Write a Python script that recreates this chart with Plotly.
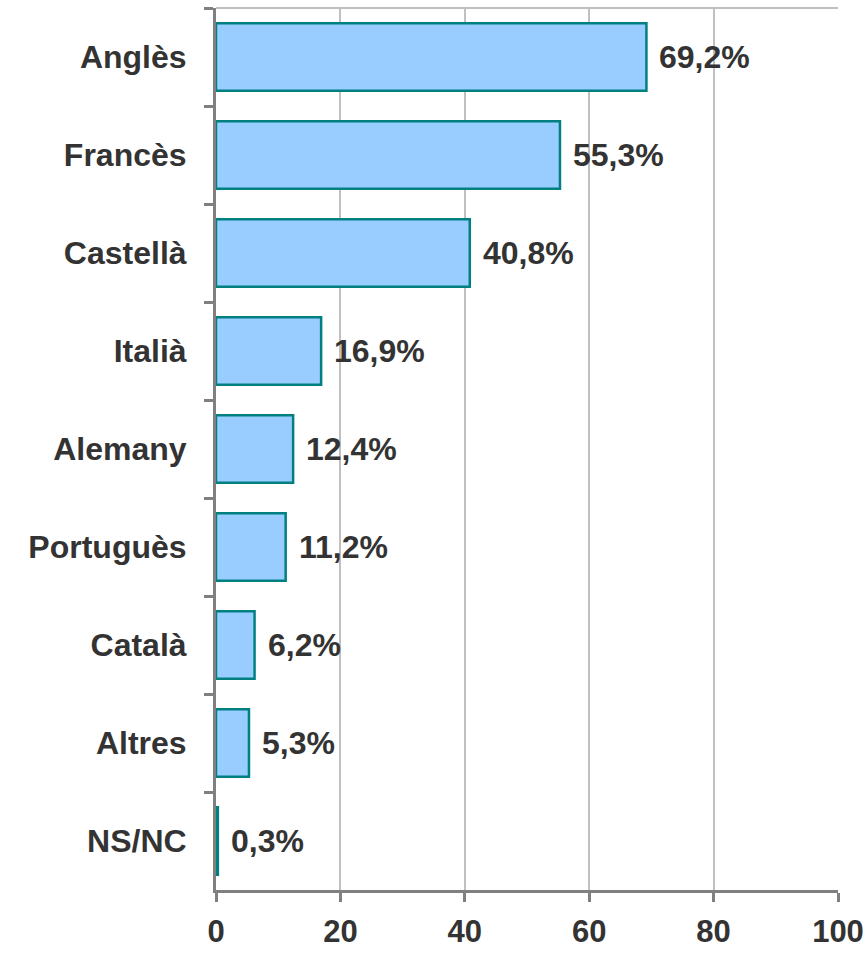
import plotly.graph_objects as go

categories = ["Anglès", "Francès", "Castellà", "Italià", "Alemany", "Portuguès", "Català", "Altres", "NS/NC"]
values = [69.2, 55.3, 40.8, 16.9, 12.4, 11.2, 6.2, 5.3, 0.3]
labels = ["69,2%", "55,3%", "40,8%", "16,9%", "12,4%", "11,2%", "6,2%", "5,3%", "0,3%"]
x_ticks = [0, 20, 40, 60, 80, 100]

FONT = "Liberation Sans, Arial, sans-serif"
TXT = "#333333"

fig = go.Figure(go.Bar(
    x=values, y=categories, orientation="h",
    marker=dict(color="#99CCFF", line=dict(color="#008080", width=2.5)),
    cliponaxis=False,
))

annotations = [
    dict(x=v, y=c, xref="x", yref="y", text=t, showarrow=False,
         xanchor="left", yanchor="middle", xshift=11,
         font=dict(family=FONT, size=32, color=TXT, weight="bold"))
    for v, c, t in zip(values, categories, labels)
]

fig.update_layout(
    width=868, height=953,
    margin=dict(l=216, r=30, t=8, b=63, autoexpand=False),
    plot_bgcolor="white", paper_bgcolor="white",
    bargap=0.31,
    showlegend=False,
    font=dict(family=FONT, color=TXT),
    annotations=annotations,
    shapes=[dict(type="line", xref="paper", yref="paper", x0=0, x1=1, y0=1, y1=1,
                 line=dict(color="#C0C0C0", width=2))],
)
fig.update_xaxes(
    range=[0, 100], tickvals=x_ticks, ticktext=[str(v) for v in x_ticks],
    showgrid=True, gridcolor="#C0C0C0", gridwidth=2,
    showline=True, linecolor="#808080", linewidth=3,
    ticks="outside", ticklen=9, tickwidth=3, tickcolor="#808080",
    tickfont=dict(family=FONT, size=31, color=TXT, weight="bold"),
    zeroline=False, automargin=False, ticklabelstandoff=3,
)
fig.update_yaxes(
    autorange="reversed", categoryorder="array", categoryarray=categories,
    showline=True, linecolor="#808080", linewidth=3,
    ticks="outside", ticklen=9, tickwidth=3, tickcolor="#808080", tickson="boundaries",
    tickfont=dict(family=FONT, size=32, color=TXT, weight="bold"),
    ticklabelstandoff=20, showgrid=False, automargin=False,
)

fig.write_html("out.html", config={"displayModeBar": False},
               post_script="document.body.style.margin='0';document.body.style.overflow='hidden';")
